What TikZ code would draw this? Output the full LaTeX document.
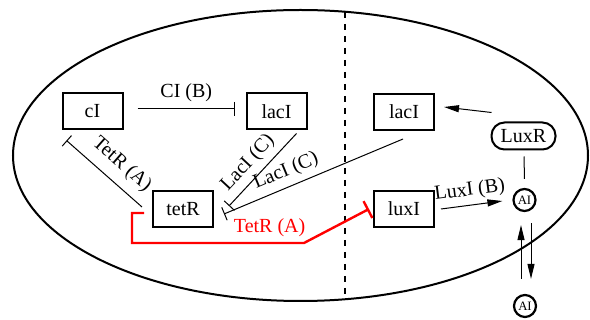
\documentclass[tikz,border=0pt]{standalone}
\usepackage{fontspec}
\setmainfont{Liberation Serif}
\usetikzlibrary{arrows.meta, positioning, calc}

\begin{document}
\begin{tikzpicture}[x=0.5pt, y=-0.5pt,
    gene/.style={draw, line width=1pt, minimum width=30pt, minimum height=18pt, inner sep=2pt, font=\fontsize{10}{12}\selectfont},
    prot/.style={draw, line width=1pt, rounded corners=6.5pt, minimum width=32pt, minimum height=13.5pt, inner sep=2pt, font=\fontsize{10}{12}\selectfont},
    sig/.style={draw, circle, line width=1.1pt, minimum size=11pt, inner sep=0.5pt, font=\fontsize{6.4}{7}\selectfont},
    inhib/.style={-{Bar[width=7pt]}, line width=0.5pt},
    act/.style={-{Triangle[length=7.5pt, width=3.5pt]}, line width=0.5pt},
    lbl/.style={font=\fontsize{10}{12}\selectfont, inner sep=1.5pt},
    ]
    \useasboundingbox (0,0) rectangle (590,320);

    % cell and the cut between the two halves
    \draw[line width=1pt] (300.5,155.5) ellipse [x radius=287.5, y radius=145.5];
    \begin{scope}
        \clip (300.5,155.5) ellipse [x radius=287.5, y radius=145.5];
        \draw[dashed, line width=0.6pt] (345,0) -- (345,320);
    \end{scope}

    % left half: repressilator
    \node[gene] (cI) at (92.5,111.5) {cI};
    \node[gene, right=61pt of cI] (lacIa) {lacI};
    \node[gene] (tetR) at (183,209) {tetR};

    % right half: sender / receiver
    \node[gene] (lacIb) at (404,112) {lacI};
    \node[gene, below=29.5pt of lacIb] (luxI) {luxI};
    \node[prot] (luxR) at (523.5,136) {LuxR};
    \node[sig] (ai) at (524.5,200) {AI};
    \node[sig] (aiout) at (525,306) {AI};

    % repression
    \draw[inhib] ($(cI.east)+(14,-2.5)$) -- node[lbl, above=2pt] {CI (B)} ($(lacIa.west)+(-10.5,-2.5)$);
    \draw[inhib] ($(tetR.west)+(-10,-2)$) -- node[lbl, pos=0.43, sloped, above=3pt] {TetR (A)} ($(cI.south west)+(5,10)$);
    \draw[inhib] ($(lacIa.south east)+(-11,3)$) -- node[lbl, pos=0.55, sloped, above=1.5pt] {LacI (C)} ($(tetR.east)+(15,-3)$);
    \draw[inhib] ($(lacIb.south)+(-1,8)$) -- node[lbl, pos=0.62, sloped, above=1.5pt] {LacI (C)} ($(tetR.east)+(10,5)$);
    \draw[-{Bar[width=9.5pt]}, red, line width=1.2pt] ($(tetR.west)+(-8,4)$) -- ++(-12,0) -- ++(0,30)
        -- node[lbl, pos=0.8, above=1pt] {TetR (A)} ++(172,0) -- ($(luxI.west)+(-4,0)$);

    % quorum sensing
    \draw[act] ($(luxI.east)+(6,0)$) -- node[lbl, sloped, above=1pt] {LuxI (B)} ($(ai.west)+(-10,1)$);
    \draw[act] ($(luxR.north west)+(1,-9)$) -- ($(lacIb.east)+(9,-5)$);
    \draw[line width=0.5pt] ($(luxR.south)+(0.5,6)$) -- ($(ai.north)+(0,-9)$);
    \draw[act] ($(aiout.north)+(-4,-15)$) -- ($(ai.south)+(-3.5,13)$);
    \draw[act] ($(ai.south)+(6.5,11)$) -- ($(aiout.north)+(6,-15)$);
\end{tikzpicture}
\end{document}
